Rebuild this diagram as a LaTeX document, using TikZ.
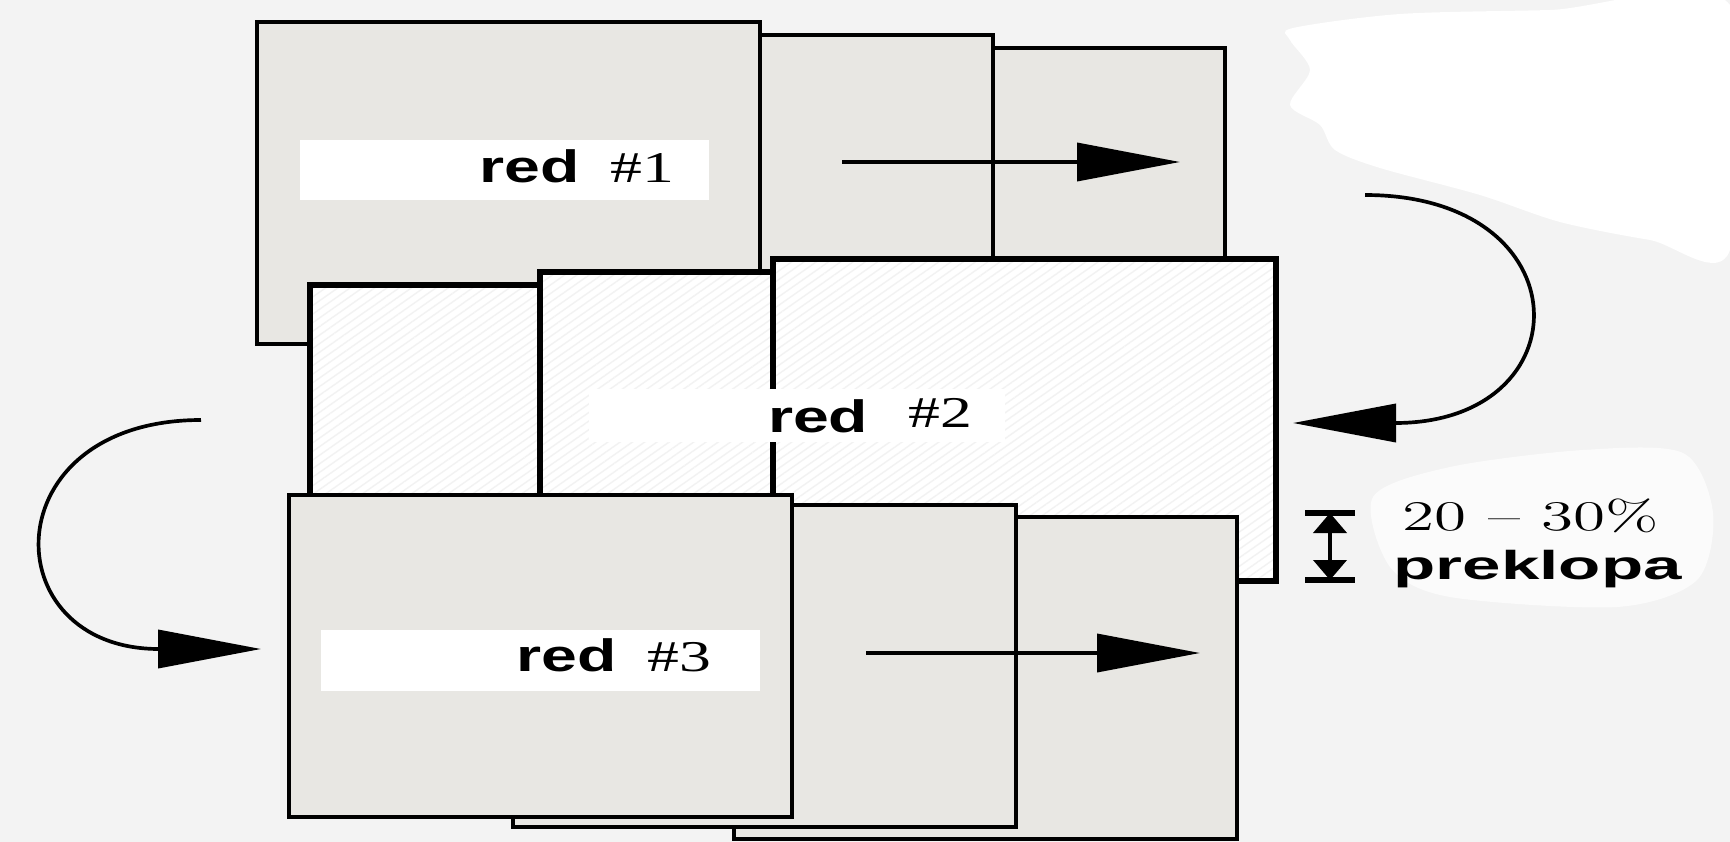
\documentclass[tikz,border=0pt]{standalone}
\usepackage{fontspec}
\usepackage{graphicx}
\usepackage{tikz}
\usetikzlibrary{arrows.meta, patterns.meta}

\newfontfamily\arialfont{Liberation Sans}
\newfontfamily\timesfont{Liberation Serif}
\definecolor{bgcol}{RGB}{243,243,243}
\definecolor{sheetgray}{RGB}{232,231,227}
\newcommand{\wide}[2]{\scalebox{#1}[1]{#2}}
\newcommand{\redword}{\wide{1.42}{\arialfont\bfseries\fontsize{12.9}{14}\selectfont red}}
\newcommand{\rownum}[1]{\wide{1.45}{\timesfont\fontsize{12.5}{14}\selectfont\##1}}

\begin{document}
\begin{tikzpicture}[x=0.1mm, y=-0.1mm,
    sheet/.style={draw, line width=1.1pt, fill=sheetgray, rectangle, anchor=north west, inner sep=0pt, minimum width=5.03cm, minimum height=3.22cm},
    hatched/.style={sheet, line width=1.7pt, preaction={fill=white}, pattern={Lines[angle=35, distance=2pt, line width=0.4pt]}, pattern color=black!5},
    labelbox/.style={fill=white, inner sep=0pt, anchor=north west},
    flow/.style={line width=1.05pt, -{Triangle[length=1.03cm, width=0.38cm]}},
    bar/.style={line width=1.5pt}]
    \useasboundingbox (0,0) rectangle (1730,842);
    \fill[bgcol] (0,0) rectangle (1730,842);
    \fill[white] plot[smooth cycle] coordinates {(1293,28) (1400,14) (1550,10) (1730,5) (1730,250) (1650,240) (1560,222) (1480,195) (1380,168) (1335,150) (1320,125) (1290,105) (1310,70) (1290,40)};
    \fill[white, opacity=0.7] plot[smooth cycle] coordinates {(1373,497) (1450,467) (1583,450) (1683,453) (1713,513) (1697,580) (1617,607) (1450,597) (1390,567)};

    % row 1
    \node[sheet] (a3) at (720,46) {};
    \node[sheet] (a2) at (488,33) {};
    \node[sheet] (a1) at (255,20) {};
    \node[labelbox, minimum width=4.09cm, minimum height=0.6cm] (box1) at (299,139) {};
    \node[anchor=base east, inner sep=0pt] (lbl1) at (675,182) {\redword\hspace{8.8pt}\rownum{1}};
    \coordinate (r1s) at (842,162);
    \coordinate (r1e) at (1180,162);
    \draw[flow] (r1s) -- (r1e);

    % row 2
    \node[hatched] (b1) at (309,284) {};
    \node[hatched] (b2) at (537,269) {};
    \node[hatched] (b3) at (770,256) {};
    \node[labelbox, minimum width=4.16cm, minimum height=0.53cm] (box2) at (588,388) {};
    \node[anchor=base east, inner sep=0pt] (lbl2) at (973,432) {\redword\hspace{11.5pt}\raisebox{1.4pt}{\rownum{2}}};

    % row 3
    \node[sheet] (c3) at (732,515) {};
    \node[sheet] (c2) at (511,503) {};
    \node[sheet] (c1) at (287,493) {};
    \node[labelbox, minimum width=4.39cm, minimum height=0.61cm] (box3) at (320,629) {};
    \node[anchor=base east, inner sep=0pt] (lbl3) at (712,671) {\redword\hspace{8.8pt}\rownum{3}};
    \coordinate (r3s) at (866,653);
    \coordinate (r3e) at (1200,653);
    \draw[flow] (r3s) -- (r3e);

    % turns between rows
    \coordinate (turn1s) at (1365,195);
    \coordinate (turn1e) at (1293,423);
    \draw[flow] (turn1s) .. controls (1585,195) and (1585,423) .. (turn1e);
    \coordinate (turn2s) at (201,420);
    \coordinate (turn2e) at (261,649);
    \draw[flow] (turn2s) .. controls (-8,420) and (-8,649) .. (turn2e);

    % overlap
    \coordinate (ovltop) at (1330,513);
    \coordinate (ovlbot) at (1330,580);
    \draw[bar] ([xshift=-2.5mm]ovltop) -- ([xshift=2.5mm]ovltop);
    \draw[bar] ([xshift=-2.5mm]ovlbot) -- ([xshift=2.5mm]ovlbot);
    \draw[line width=1.2pt, {Triangle[length=2mm, width=3.3mm]}-{Triangle[length=2mm, width=3.3mm]}] (ovltop) -- (ovlbot);
    \node[anchor=base west, inner sep=0pt] (pct) at (1402,530) {\fontsize{12}{14}\selectfont\wide{1.55}{20 -- 30\%}};
    \node[anchor=base west, inner sep=0pt] (ovl) at (1393,579) {\wide{1.71}{\arialfont\bfseries\fontsize{11.5}{13}\selectfont preklopa}};
\end{tikzpicture}
\end{document}
